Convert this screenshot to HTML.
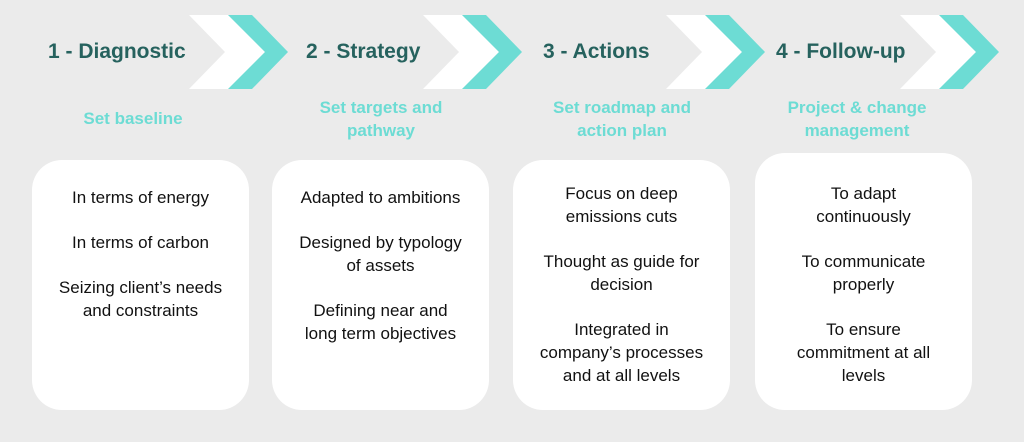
<!DOCTYPE html><html><head><style>
body{margin:0;width:1024px;height:442px;background:#ebebeb;position:relative;overflow:hidden;font-family:"Liberation Sans",sans-serif}
.t{position:absolute;top:40px;font-weight:bold;font-size:21px;color:#26625e;white-space:nowrap}
.s{position:absolute;top:96px;width:220px;text-align:center;color:#6ddcd4;font-weight:bold;font-size:17px;line-height:23px;white-space:nowrap}
.b{position:absolute;background:#fff;border-radius:30px;top:160px;height:250px;width:217px}
.b p{margin:0;position:absolute;left:0;right:0;text-align:center;font-size:17px;line-height:23px;color:#111}
</style></head><body>
<svg width="1024" height="442" style="position:absolute;left:0;top:0">
<g id="c"><polygon points="189,15 229,15 265,52 229,89 189,89 225,52" fill="#fff"/><polygon points="228,15 252,15 288,52 252,89 228,89 265,52" fill="#6ddcd4"/></g>
<use href="#c" x="234"/><use href="#c" x="477"/><use href="#c" x="711"/>
</svg>
<div class="t" style="left:48px">1 - Diagnostic</div>
<div class="t" style="left:306px">2 - Strategy</div>
<div class="t" style="left:543px">3 - Actions</div>
<div class="t" style="left:776px">4 - Follow-up</div>
<div class="s" style="left:23px;top:107px">Set baseline</div>
<div class="s" style="left:271px">Set targets and<br>pathway</div>
<div class="s" style="left:512px">Set roadmap and<br>action plan</div>
<div class="s" style="left:747px">Project &amp; change<br>management</div>
<div class="b" style="left:32px"><p style="top:26px">In terms of energy</p><p style="top:71px">In terms of carbon</p><p style="top:116px">Seizing client’s needs<br>and constraints</p></div>
<div class="b" style="left:272px"><p style="top:26px">Adapted to ambitions</p><p style="top:71px">Designed by typology<br>of assets</p><p style="top:139px">Defining near and<br>long term objectives</p></div>
<div class="b" style="left:513px"><p style="top:22px">Focus on deep<br>emissions cuts</p><p style="top:90px">Thought as guide for<br>decision</p><p style="top:158px">Integrated in<br>company’s processes<br>and at all levels</p></div>
<div class="b" style="left:755px;top:153px;height:257px"><p style="top:29px">To adapt<br>continuously</p><p style="top:97px">To communicate<br>properly</p><p style="top:165px">To ensure<br>commitment at all<br>levels</p></div>
</body></html>
